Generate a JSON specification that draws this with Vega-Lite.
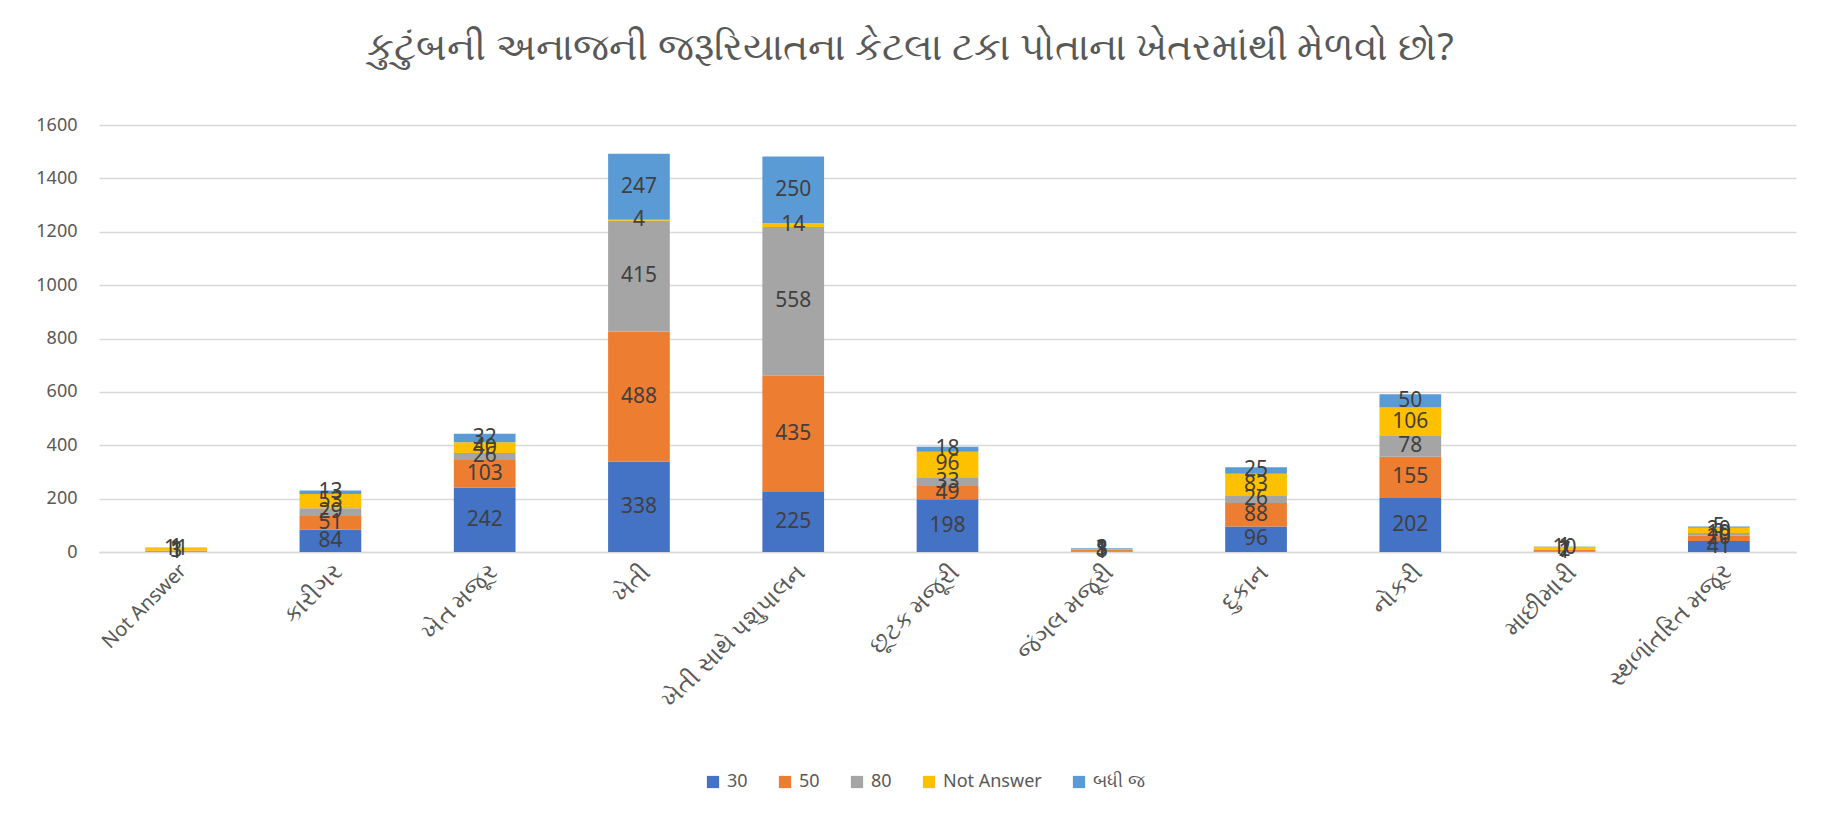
{
  "$schema": "https://vega.github.io/schema/vega-lite/v6.json",
  "width": 1697,
  "height": 427,
  "autosize": {"type": "none"},
  "padding": {"left": 99, "top": 125, "right": 35, "bottom": 267},
  "background": "white",
  "config": {"view": {"stroke": null}},
  "title": {
    "text": "કુટુંબની અનાજની જરૂરિયાતના કેટલા ટકા પોતાના ખેતરમાંથી મેળવો છો?",
    "fontSize": 38,
    "font": "Noto Sans",
    "fontWeight": "normal",
    "color": "#595959",
    "offset": 48,
    "dx": -37
  },
  "data": {
    "values": [
      {"cat": "Not Answer", "series": "30", "v": 1},
      {"cat": "Not Answer", "series": "50", "v": 3},
      {"cat": "Not Answer", "series": "80", "v": 1},
      {"cat": "Not Answer", "series": "Not Answer", "v": 11},
      {"cat": "Not Answer", "series": "બધી જ", "v": 1},
      {"cat": "કારીગર", "series": "30", "v": 84},
      {"cat": "કારીગર", "series": "50", "v": 51},
      {"cat": "કારીગર", "series": "80", "v": 29},
      {"cat": "કારીગર", "series": "Not Answer", "v": 53},
      {"cat": "કારીગર", "series": "બધી જ", "v": 13},
      {"cat": "ખેત મજૂર", "series": "30", "v": 242},
      {"cat": "ખેત મજૂર", "series": "50", "v": 103},
      {"cat": "ખેત મજૂર", "series": "80", "v": 26},
      {"cat": "ખેત મજૂર", "series": "Not Answer", "v": 40},
      {"cat": "ખેત મજૂર", "series": "બધી જ", "v": 32},
      {"cat": "ખેતી", "series": "30", "v": 338},
      {"cat": "ખેતી", "series": "50", "v": 488},
      {"cat": "ખેતી", "series": "80", "v": 415},
      {"cat": "ખેતી", "series": "Not Answer", "v": 4},
      {"cat": "ખેતી", "series": "બધી જ", "v": 247},
      {"cat": "ખેતી સાથે પશુપાલન", "series": "30", "v": 225},
      {"cat": "ખેતી સાથે પશુપાલન", "series": "50", "v": 435},
      {"cat": "ખેતી સાથે પશુપાલન", "series": "80", "v": 558},
      {"cat": "ખેતી સાથે પશુપાલન", "series": "Not Answer", "v": 14},
      {"cat": "ખેતી સાથે પશુપાલન", "series": "બધી જ", "v": 250},
      {"cat": "છૂટક મજૂરી", "series": "30", "v": 198},
      {"cat": "છૂટક મજૂરી", "series": "50", "v": 49},
      {"cat": "છૂટક મજૂરી", "series": "80", "v": 33},
      {"cat": "છૂટક મજૂરી", "series": "Not Answer", "v": 96},
      {"cat": "છૂટક મજૂરી", "series": "બધી જ", "v": 18},
      {"cat": "જંગલ મજૂરી", "series": "30", "v": 1},
      {"cat": "જંગલ મજૂરી", "series": "50", "v": 8},
      {"cat": "જંગલ મજૂરી", "series": "80", "v": 1},
      {"cat": "જંગલ મજૂરી", "series": "Not Answer", "v": 1},
      {"cat": "જંગલ મજૂરી", "series": "બધી જ", "v": 3},
      {"cat": "દુકાન", "series": "30", "v": 96},
      {"cat": "દુકાન", "series": "50", "v": 88},
      {"cat": "દુકાન", "series": "80", "v": 26},
      {"cat": "દુકાન", "series": "Not Answer", "v": 83},
      {"cat": "દુકાન", "series": "બધી જ", "v": 25},
      {"cat": "નોકરી", "series": "30", "v": 202},
      {"cat": "નોકરી", "series": "50", "v": 155},
      {"cat": "નોકરી", "series": "80", "v": 78},
      {"cat": "નોકરી", "series": "Not Answer", "v": 106},
      {"cat": "નોકરી", "series": "બધી જ", "v": 50},
      {"cat": "માછીમારી", "series": "30", "v": 1},
      {"cat": "માછીમારી", "series": "50", "v": 7},
      {"cat": "માછીમારી", "series": "80", "v": 2},
      {"cat": "માછીમારી", "series": "Not Answer", "v": 10},
      {"cat": "માછીમારી", "series": "બધી જ", "v": 1},
      {"cat": "સ્થળાંતરિત મજૂર", "series": "30", "v": 41},
      {"cat": "સ્થળાંતરિત મજૂર", "series": "50", "v": 20},
      {"cat": "સ્થળાંતરિત મજૂર", "series": "80", "v": 10},
      {"cat": "સ્થળાંતરિત મજૂર", "series": "Not Answer", "v": 20},
      {"cat": "સ્થળાંતરિત મજૂર", "series": "બધી જ", "v": 5}
    ]
  },
  "encoding": {
    "x": {
      "field": "cat",
      "type": "nominal",
      "sort": null,
      "title": null,
      "scale": {"paddingInner": 0.6, "paddingOuter": 0.3},
      "axis": {
        "labelAngle": -45,
        "labelFontSize": {"condition": {"test": "datum.value === 'Not Answer'", "value": 20}, "value": 24},
        "labelFont": "Noto Sans",
        "labelColor": "#595959",
        "labelPadding": 8,
        "labelLimit": 400,
        "ticks": false,
        "domainColor": "#d9d9d9",
        "domainWidth": 1.5
      }
    }
  },
  "layer": [
    {
      "mark": {"type": "bar"},
      "encoding": {
        "y": {
          "field": "v",
          "type": "quantitative",
          "aggregate": "sum",
          "stack": "zero",
          "title": null,
          "scale": {"domain": [0, 1600], "nice": false},
          "axis": {
            "values": [0, 200, 400, 600, 800, 1000, 1200, 1400, 1600],
            "format": "d",
            "labelFontSize": 18,
            "labelFont": "Noto Sans",
            "labelColor": "#595959",
            "labelPadding": 22,
            "ticks": false,
            "domain": false,
            "gridColor": "#d9d9d9",
            "gridWidth": 1.5
          }
        },
        "order": {"field": "series", "sort": "ascending"},
        "color": {
          "field": "series",
          "type": "nominal",
          "title": null,
          "scale": {
            "domain": ["30", "50", "80", "Not Answer", "બધી જ"],
            "range": ["#4472C4", "#ED7D31", "#A5A5A5", "#FFC000", "#5B9BD5"]
          },
          "legend": {
            "orient": "none",
            "direction": "horizontal",
            "legendX": 605,
            "legendY": 648,
            "symbolType": "square",
            "symbolSize": 150,
            "symbolStrokeWidth": 0,
            "labelFontSize": 18,
            "labelFont": "Noto Sans",
            "labelColor": "#595959",
            "columnPadding": 28,
            "labelOffset": 5
          }
        }
      }
    },
    {
      "transform": [
        {"stack": "v", "groupby": ["cat"], "sort": [{"field": "series", "order": "ascending"}], "as": ["y0", "y1"]},
        {"fold": ["y0", "y1"], "as": ["edge", "pos"]},
        {"aggregate": [{"op": "mean", "field": "pos", "as": "mid"}], "groupby": ["cat", "series", "v"]}
      ],
      "mark": {"type": "text", "fontSize": 21, "font": "Noto Sans", "color": "#404040", "baseline": "middle"},
      "encoding": {
        "y": {"field": "mid", "type": "quantitative"},
        "text": {"field": "v", "type": "quantitative"}
      }
    }
  ]
}
